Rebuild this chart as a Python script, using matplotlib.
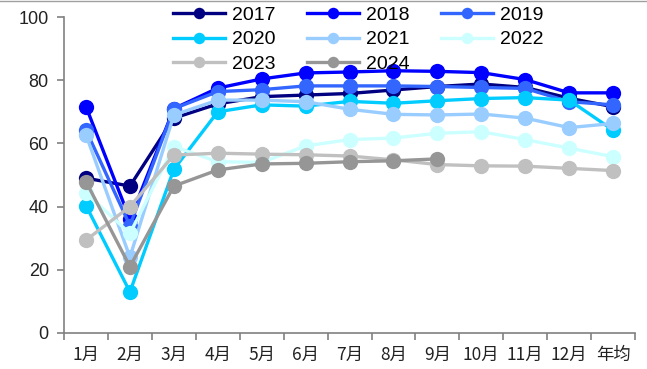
import matplotlib
matplotlib.use('Agg')
import matplotlib.pyplot as plt
from matplotlib.lines import Line2D

plt.rcParams['font.family'] = ['Liberation Sans', 'Noto Sans CJK SC', 'DejaVu Sans']

months = ['1月', '2月', '3月', '4月', '5月', '6月', '7月', '8月', '9月',
          '10月', '11月', '12月', '年均']

y2017 = [49.0, 46.5, 68.0, 72.5, 74.8, 75.3, 75.8, 76.9, 78.0, 78.8, 77.7, 74.3, 71.6]
y2018 = [71.6, 36.0, 71.0, 77.5, 80.4, 82.3, 82.6, 83.0, 82.8, 82.4, 80.2, 76.0, 76.0]
y2019 = [64.2, 34.0, 71.0, 76.4, 77.0, 78.2, 78.2, 78.2, 78.0, 77.7, 77.4, 73.2, 72.2]
y2020 = [40.3, 13.0, 51.8, 70.0, 72.2, 71.8, 73.3, 72.7, 73.5, 74.2, 74.5, 73.7, 64.2]
y2021 = [62.7, 24.0, 69.0, 73.7, 73.7, 73.2, 70.8, 69.2, 69.0, 69.3, 68.0, 65.0, 66.3]
y2022 = [44.3, 31.5, 59.0, 54.2, 54.0, 59.2, 61.2, 61.7, 63.2, 63.7, 61.2, 58.5, 55.8]
y2023 = [29.4, 40.0, 56.3, 56.9, 56.6, 56.4, 56.0, 54.8, 53.3, 52.9, 52.8, 52.1, 51.4]
y2024 = [47.9, 21.0, 46.5, 51.6, 53.5, 53.7, 54.2, 54.5, 55.1]

series = [
    ('2017', y2017, '#000080'),
    ('2018', y2018, '#0000FF'),
    ('2019', y2019, '#3366FF'),
    ('2020', y2020, '#00CCFF'),
    ('2021', y2021, '#99CCFF'),
    ('2022', y2022, '#CCFFFF'),
    ('2023', y2023, '#C0C0C0'),
    ('2024', y2024, '#969696'),
]

fig = plt.figure(figsize=(6.47, 3.69), dpi=100)
ax = fig.add_axes([0.099, 0.0976, 0.8825, 0.8563])

lines = []
for name, vals, color in series:
    ln, = ax.plot(range(len(vals)), vals, color=color, lw=2.4, marker='o',
                  markersize=11, markeredgewidth=0, label=name)
    lines.append(ln)

ax.set_xlim(-0.5, len(months) - 0.5)
ax.set_ylim(0, 100)
ax.set_yticks(range(0, 101, 20))

# ticks sit between categories, labels at the category centres
ax.set_xticks([i - 0.5 for i in range(len(months) + 1)])
ax.set_xticklabels([])
ax.set_xticks(range(len(months)), minor=True)
ax.set_xticklabels(months, minor=True, fontsize=12.5,
                   family=['Noto Sans CJK SC', 'DejaVu Sans'], color='#222222')
ax.tick_params(axis='x', which='minor', length=0, pad=9)
ax.tick_params(axis='x', which='major', length=5, width=1.2, color='#808080')
ax.tick_params(axis='y', length=5, width=1.2, color='#808080',
               labelsize=13, labelcolor='#222222', pad=6)

for side in ['top', 'right']:
    ax.spines[side].set_visible(False)
for side in ['left', 'bottom']:
    ax.spines[side].set_color('#808080')
    ax.spines[side].set_linewidth(1.2)

# legend reads row by row: reorder for matplotlib's column fill
order = [0, 3, 6, 1, 4, 7, 2, 5]
ax.legend([lines[i] for i in order], [series[i][0] for i in order],
          ncol=3, loc='upper left', bbox_to_anchor=(0.267, 0.982),
          bbox_transform=fig.transFigure, frameon=False, fontsize=14,
          handlelength=2.7, handletextpad=0.35, columnspacing=1.6,
          labelspacing=0.34, borderpad=0, borderaxespad=0, markerscale=0.75)

fig.add_artist(Line2D([0, 1], [0.998, 0.998], transform=fig.transFigure,
                      color='#A0A0A0', lw=1))

fig.savefig('out.png', dpi=100)
